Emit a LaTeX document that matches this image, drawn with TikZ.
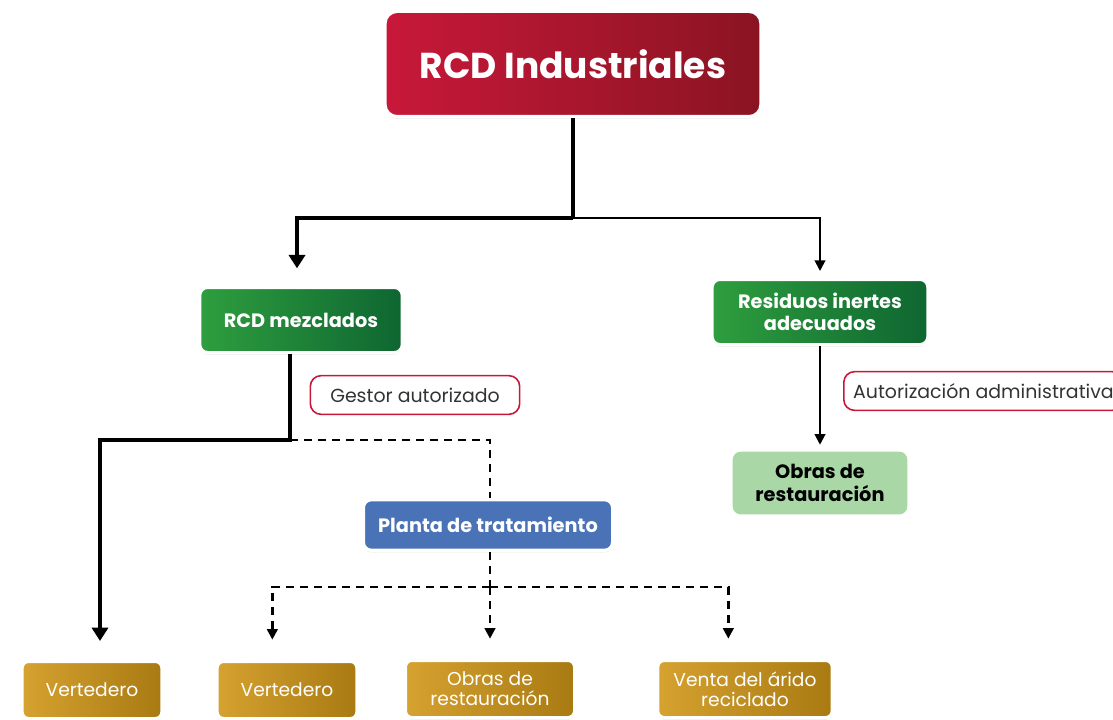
\documentclass[tikz,border=0pt]{standalone}
\usepackage{fontspec}
\setmainfont{Poppins}
\usetikzlibrary{arrows.meta, shadows}
\definecolor{rcdred}{HTML}{C8183A}
\definecolor{rcdreddark}{HTML}{8A1422}
\definecolor{rcdgreen}{HTML}{2E9E3E}
\definecolor{rcdgreendark}{HTML}{0E6631}
\definecolor{rcdlight}{HTML}{A9D8A6}
\definecolor{rcdblue}{HTML}{4A72B6}
\definecolor{rcdgold}{HTML}{D6A230}
\definecolor{rcdgolddark}{HTML}{A87A12}
\definecolor{rcdtext}{HTML}{333333}

\tikzset{
  box/.style={rounded corners=9pt, draw=white, line width=2.5pt, align=center,
    text=white, drop shadow={opacity=0.22, shadow xshift=0pt, shadow yshift=-1.5pt}},
  titlebox/.style={box, left color=rcdred, right color=rcdreddark,
    minimum width=282pt, minimum height=79pt, font=\fontsize{27}{30}\selectfont\bfseries},
  groupbox/.style={box, left color=rcdgreen, right color=rcdgreendark, rounded corners=6pt,
    minimum height=49pt, font=\fontsize{14.5}{17}\selectfont\bfseries},
  endbox/.style={box, left color=rcdgold, right color=rcdgolddark, rounded corners=5pt,
    minimum height=43pt, font=\fontsize{14}{15}\selectfont},
  plantbox/.style={box, fill=rcdblue, rounded corners=6pt, minimum width=187pt,
    minimum height=38pt, font=\fontsize{14.5}{17}\selectfont\bfseries},
  lightbox/.style={rounded corners=6pt, fill=rcdlight, align=center, text=black,
    minimum width=131pt, minimum height=47pt, font=\fontsize{14.5}{17}\selectfont\bfseries},
  tagbox/.style={rounded corners=8pt, draw=rcdred, line width=1.2pt, fill=white, text=rcdtext,
    minimum height=29pt, inner xsep=7pt, font=\fontsize{14.2}{16}\selectfont},
  thickarr/.style={line width=3.6pt, -{Triangle[length=10pt, width=12pt]}},
  thinarr/.style={line width=1.5pt, -{Triangle[length=8pt, width=8pt]}},
  dashline/.style={line width=1.8pt, dash pattern=on 6pt off 4.5pt},
  dasharr/.style={dashline, -{Triangle[length=8pt, width=8pt]}}
}

\begin{document}
\begin{tikzpicture}[x=0.75pt, y=-0.75pt]
  \useasboundingbox (0,0) rectangle (1113,720);

  % nodes
  \node[titlebox] (top) at (573,64) {RCD Industriales};
  \node[groupbox, minimum width=152pt] (mezcl) at (301,320) {RCD mezclados};
  \node[groupbox, minimum width=162pt] (inertes) at (820,312) {Residuos inertes\\adecuados};
  \node[tagbox, minimum width=157pt] (gestor) at (415,395) {Gestor autorizado};
  \node[tagbox, anchor=west] (autoriz) at (843,391) {Autorización administrativa};
  \node[plantbox] (planta) at (488,525) {Planta de tratamiento};
  \node[lightbox] (obras1) at (820,483) {Obras de\\restauración};
  \node[endbox, minimum width=105pt] (vert1) at (92,690) {Vertedero};
  \node[endbox, minimum width=105pt] (vert2) at (287,690) {Vertedero};
  \node[endbox, minimum width=127pt] (obras2) at (490,689) {Obras de\\restauración};
  \node[endbox, minimum width=131pt] (venta) at (745,689) {Venta del árido\\reciclado};

  % connectors
  \coordinate (split) at (573,218);
  \coordinate (junc) at (290,440);
  \coordinate (dsplit) at (490,587);
  \draw[line width=3.6pt] (top.south) -- (split);
  \draw[thickarr, shorten >=13pt] (split) -| ([xshift=-3pt]mezcl.north);
  \draw[thinarr, shorten >=5pt] (split) -| (inertes.north);
  \draw[thinarr, shorten >=5pt] (inertes.south) -- (obras1.north);
  \draw[thickarr, shorten >=14pt] (mezcl.south -| junc) -- (junc) -| ([xshift=6pt]vert1.north);
  \draw[dashline] (junc) -| ([xshift=1.5pt]planta.north);
  \draw[dashline] ([xshift=1.5pt]planta.south) -- (dsplit);
  \draw[dasharr, shorten >=15pt] (dsplit) -| ([xshift=-11pt]vert2.north);
  \draw[dasharr, shorten >=15pt] (dsplit) -- (obras2.north);
  \draw[dasharr, shorten >=15pt] (dsplit) -| ([xshift=-12.5pt]venta.north);
\end{tikzpicture}
\end{document}
